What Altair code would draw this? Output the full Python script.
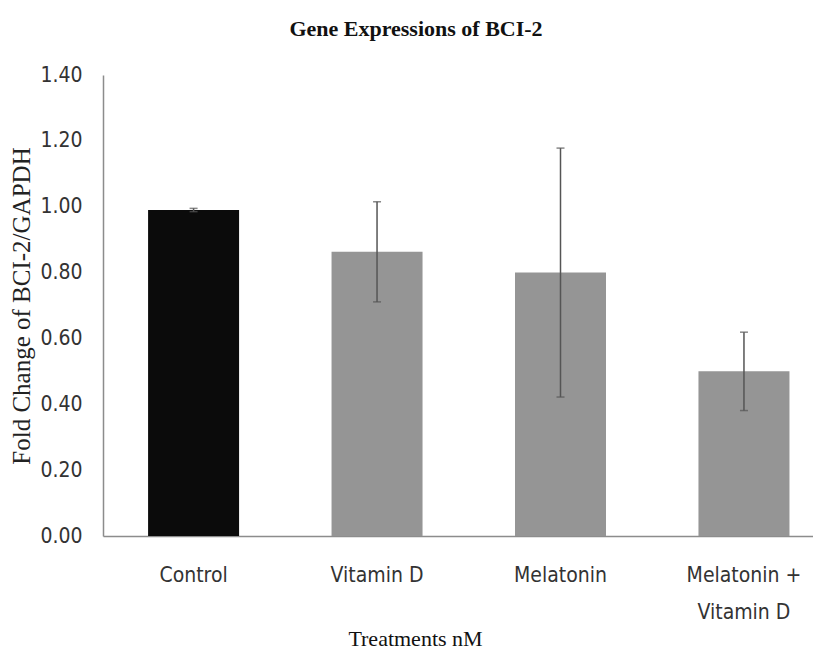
import altair as alt
import pandas as pd

categories = ["Control", "Vitamin D", "Melatonin", "Melatonin + Vitamin D"]
means = [0.99, 0.863, 0.80, 0.50]
errors = [0.005, 0.152, 0.378, 0.119]
bar_colors = ["#0b0b0b", "#959595", "#959595", "#959595"]
y_ticks = [0.0, 0.2, 0.4, 0.6, 0.8, 1.0, 1.2, 1.4]

df = pd.DataFrame({
    "treatment": categories,
    "mean": means,
    "err": errors,
    "color": bar_colors,
})
df["lo"] = df["mean"] - df["err"]
df["hi"] = df["mean"] + df["err"]

sans = "Liberation Sans Narrow, DejaVu Sans Condensed, Open Sans, sans-serif"
serif = "Liberation Serif, Times New Roman, serif"

x = alt.X(
    "treatment:N",
    sort=categories,
    scale=alt.Scale(paddingInner=0.504, paddingOuter=0.187, align=0.657),
    axis=alt.Axis(
        title="Treatments nM",
        titleFont=serif,
        titleFontSize=22,
        titleFontWeight="normal",
        titleColor="#111111",
        titleX=312,
        titleY=109,
        titleAlign="center",
        titleBaseline="alphabetic",
        labelAngle=0,
        labelFont=sans,
        labelFontSize=21,
        labelColor="#333333",
        labelPadding=28,
        labelLineHeight=37,
        labelExpr="datum.value == 'Melatonin + Vitamin D' ? ['Melatonin +', 'Vitamin D'] : datum.value",
        ticks=False,
        domainColor="#8c8c8c",
        domainWidth=1.5,
    ),
)

y_scale = alt.Scale(domain=[0, 1.4], nice=False)

bars = alt.Chart(df).mark_bar(size=91).encode(
    x=x,
    y=alt.Y(
        "mean:Q",
        scale=y_scale,
        axis=alt.Axis(
            title="Fold Change of BCI-2/GAPDH",
            titleFont=serif,
            titleFontSize=25,
            titleFontWeight="normal",
            titleColor="#222222",
            titleAngle=270,
            titleX=-74,
            titleY=230.5,
            titleAlign="center",
            titleBaseline="alphabetic",
            values=y_ticks,
            format=".2f",
            labelFont=sans,
            labelFontSize=21,
            labelColor="#333333",
            labelPadding=21,
            ticks=False,
            grid=False,
            domainColor="#8c8c8c",
            domainWidth=1.5,
        ),
    ),
    color=alt.Color("color:N", scale=None),
)

rules = alt.Chart(df).mark_rule(color="#555555", strokeWidth=1.5).encode(
    x=alt.X("treatment:N", sort=categories),
    y=alt.Y("lo:Q", scale=y_scale),
    y2="hi:Q",
)

caps_hi = alt.Chart(df).mark_tick(color="#555555", thickness=1.5, size=8, orient="horizontal").encode(
    x=alt.X("treatment:N", sort=categories),
    y=alt.Y("hi:Q", scale=y_scale),
)
caps_lo = alt.Chart(df).mark_tick(color="#555555", thickness=1.5, size=8, orient="horizontal").encode(
    x=alt.X("treatment:N", sort=categories),
    y=alt.Y("lo:Q", scale=y_scale),
)

chart = alt.layer(bars, rules, caps_hi, caps_lo).properties(
    width=710,
    height=461,
    autosize=alt.AutoSizeParams(type="none"),
    padding={"left": 95, "top": 67, "right": 0, "bottom": 116},
    title=alt.TitleParams(
        text="Gene Expressions of BCI-2",
        font=serif,
        fontSize=22,
        fontWeight="bold",
        color="#111111",
        anchor="middle",
        frame="group",
        dx=-42,
        baseline="alphabetic",
        offset=6,
    ),
).configure(background="white").configure_view(stroke=None)

chart.save("out.html", embed_options={"renderer": "svg", "actions": False})
